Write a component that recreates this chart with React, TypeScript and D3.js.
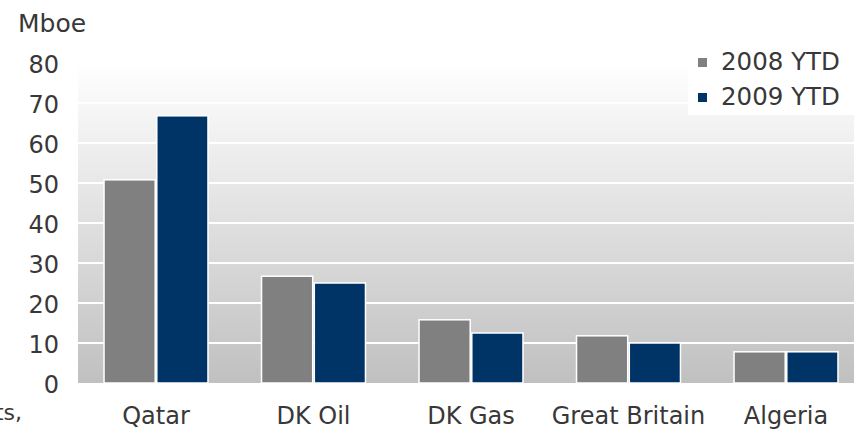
import React, { useRef, useEffect } from 'react';
import * as d3 from 'd3';

const categories = ['Qatar', 'DK Oil', 'DK Gas', 'Great Britain', 'Algeria'];
const seriesNames = ['2008 YTD', '2009 YTD'];
const values2008 = [50.8, 26.7, 15.8, 11.8, 7.8];
const values2009 = [66.8, 25, 12.5, 10, 7.8];
const yTicks = [0, 10, 20, 30, 40, 50, 60, 70, 80];

const colors = ['#808080', '#003366'];
const textColor = '#383838';
const fontFamily = '"DejaVu Sans", Verdana, sans-serif';

const App: React.FC = () => {
  const svgRef = useRef<SVGSVGElement>(null);
  const width = 854;
  const height = 431;

  useEffect(() => {
    if (!svgRef.current) return;
    const svg = d3.select(svgRef.current);
    svg.selectAll('*').remove();

    const plotLeft = 78;
    const plotTop = 63;
    const plotBottom = 383;

    const x = d3
      .scaleBand<string>()
      .domain(categories)
      .range([77.25, 864.75])
      .paddingInner(0.34)
      .paddingOuter(0.17);

    const xSeries = d3
      .scaleBand<string>()
      .domain(seriesNames)
      .range([0, x.bandwidth()])
      .paddingInner(0.03);

    const y = d3.scaleLinear().domain([0, 80]).range([plotBottom, plotTop]);

    // background gradient
    const defs = svg.append('defs');
    const grad = defs
      .append('linearGradient')
      .attr('id', 'bg')
      .attr('x1', 0)
      .attr('y1', 0)
      .attr('x2', 0)
      .attr('y2', 1);
    grad.append('stop').attr('offset', '0%').attr('stop-color', '#ffffff');
    grad.append('stop').attr('offset', '100%').attr('stop-color', '#c0c0c0');

    svg
      .append('rect')
      .attr('x', plotLeft)
      .attr('y', plotTop)
      .attr('width', width - plotLeft)
      .attr('height', plotBottom - plotTop)
      .attr('fill', 'url(#bg)');

    // gridlines
    svg
      .append('g')
      .selectAll('line')
      .data(yTicks.slice(1))
      .enter()
      .append('line')
      .attr('x1', plotLeft)
      .attr('x2', width)
      .attr('y1', (d) => y(d))
      .attr('y2', (d) => y(d))
      .attr('stroke', '#ffffff')
      .attr('stroke-width', 2);

    // tick labels
    svg
      .append('g')
      .selectAll('text')
      .data(yTicks)
      .enter()
      .append('text')
      .attr('x', 59)
      .attr('y', (d) => y(d) + 10)
      .attr('text-anchor', 'end')
      .attr('font-family', fontFamily)
      .attr('font-size', 24)
      .attr('fill', textColor)
      .text((d) => d);

    // bars
    const rows = categories.map((c, i) => ({
      category: c,
      vals: [values2008[i], values2009[i]],
    }));

    const groups = svg
      .append('g')
      .selectAll('g')
      .data(rows)
      .enter()
      .append('g')
      .attr('transform', (d) => `translate(${x(d.category)},0)`);

    groups
      .selectAll('rect')
      .data((d) => d.vals.map((v, j) => ({ name: seriesNames[j], v, j })))
      .enter()
      .append('rect')
      .attr('x', (d) => xSeries(d.name) as number)
      .attr('y', (d) => y(d.v))
      .attr('width', xSeries.bandwidth())
      .attr('height', (d) => plotBottom - y(d.v))
      .attr('fill', (d) => colors[d.j])
      .attr('stroke', '#ffffff')
      .attr('stroke-width', 1.5);

    // category labels
    svg
      .append('g')
      .selectAll('text')
      .data(categories)
      .enter()
      .append('text')
      .attr('x', (d) => (x(d) as number) + x.bandwidth() / 2)
      .attr('y', 424)
      .attr('text-anchor', 'middle')
      .attr('font-family', fontFamily)
      .attr('font-size', 24)
      .attr('fill', textColor)
      .text((d) => d);

    // unit label
    svg
      .append('text')
      .attr('x', 18)
      .attr('y', 32)
      .attr('font-family', fontFamily)
      .attr('font-size', 25)
      .attr('fill', textColor)
      .text('Mboe');

    // note at bottom-left, cut off at the edge as in the source
    svg
      .append('text')
      .attr('x', 22)
      .attr('y', 420)
      .attr('text-anchor', 'end')
      .attr('font-family', fontFamily)
      .attr('font-size', 22)
      .attr('fill', textColor)
      .text('ts,');

    // legend
    const legend = svg.append('g');
    legend
      .append('rect')
      .attr('x', 688)
      .attr('y', 38)
      .attr('width', width - 688)
      .attr('height', 77)
      .attr('fill', '#ffffff');

    const items = legend
      .selectAll('g')
      .data(seriesNames)
      .enter()
      .append('g')
      .attr('transform', (d, i) => `translate(0,${i * 35})`);

    items
      .append('rect')
      .attr('x', 698)
      .attr('y', 58)
      .attr('width', 9)
      .attr('height', 9)
      .attr('fill', (d, i) => colors[i]);

    items
      .append('text')
      .attr('x', 721)
      .attr('y', 70)
      .attr('font-family', fontFamily)
      .attr('font-size', 24.5)
      .attr('fill', textColor)
      .text((d) => d);
  }, []);

  return (
    <div style={{ position: 'absolute', left: 0, top: 0, overflow: 'hidden' }}>
      <svg ref={svgRef} width={width} height={height} style={{ display: 'block' }} />
    </div>
  );
};

export default App;
